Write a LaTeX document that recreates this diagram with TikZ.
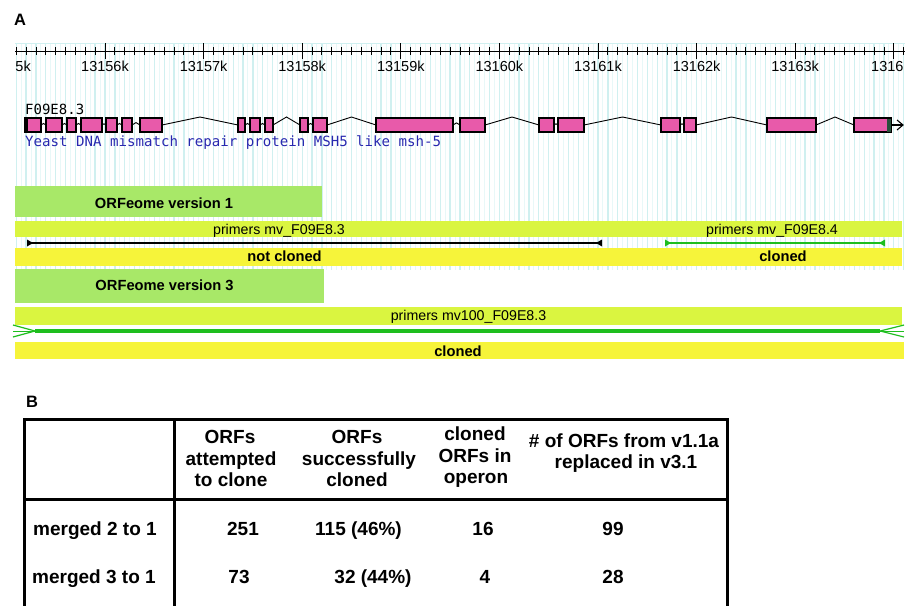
\documentclass[tikz,border=0pt]{standalone}
\usepackage{fontspec}
\setmainfont{Liberation Sans}
\newfontfamily\monof{DejaVu Sans Mono}
\usetikzlibrary{arrows.meta}
\definecolor{stripe}{RGB}{208,240,240}
\definecolor{stripelt}{RGB}{232,248,248}
\definecolor{orfgreen}{RGB}{168,232,104}
\definecolor{primbar}{RGB}{218,245,64}
\definecolor{clonebar}{RGB}{246,244,58}
\definecolor{lgreen}{RGB}{30,190,30}
\definecolor{exonpink}{RGB}{232,90,170}
\definecolor{genblue}{RGB}{40,40,175}
\definecolor{enddark}{RGB}{40,80,60}
\begin{document}
\begin{tikzpicture}[x=1pt,y=-1pt,
  txt/.style={inner sep=0pt, anchor=base},
  trk/.style={txt, font=\fontsize{14.2}{16}\selectfont},
  trkb/.style={txt, font=\bfseries\fontsize{14.7}{16}\selectfont},
  rul/.style={txt, font=\fontsize{14.5}{16}\selectfont},
  tab/.style={txt, font=\bfseries\fontsize{19}{21}\selectfont},
  panel/.style={txt, anchor=base west, font=\bfseries\fontsize{16.5}{18}\selectfont},
  exon/.style={fill=exonpink, draw=black, line width=1.1pt},
  intron/.style={draw=black, line width=0.9pt},
  tabline/.style={line width=3pt}]
\fill[white] (0,0) rectangle (917,605);
\useasboundingbox (0,0) rectangle (917,605);

% background stripes
\foreach \k in {-9,...,80} {
  \draw[stripelt, line width=1pt] ({105+\k*9.86+4.93},43) -- ({105+\k*9.86+4.93},270);
}
\foreach \k in {-9,...,81} {
  \draw[stripe, line width=1.3pt] ({105+\k*9.86},43) -- ({105+\k*9.86},270);
}
\draw[stripe, line width=1pt] (15,43) -- (905,43);

% panel labels
\node[panel] (lblA) at (14,25) {A};
\node[panel] (lblB) at (26,407) {B};

% ruler
\draw[line width=1pt] (15,51) -- (905,51);
\foreach \k in {-9,...,81} {
  \draw[line width=0.9pt] ({105+\k*9.86},47) -- ({105+\k*9.86},55);
}
\foreach \m in {0,...,8} {
  \draw[line width=1pt] ({105+\m*98.6},43) -- ({105+\m*98.6},59);
}
\foreach \m in {0,...,7} {
  \pgfmathtruncatemacro{\kb}{13156+\m}
  \node[rul] (tick\m) at ({105+\m*98.6},71.5) {\kb k};
}
\node[rul, anchor=base east] (tickL) at (31,71.5) {5k};
\node[rul, anchor=base west] (tickR) at (871,71.5) {1316};

% gene model
\node[txt, anchor=base west, font=\monof\fontsize{14}{16}\selectfont] (gname) at (25,114.5) {F09E8.3};
\foreach \a/\b in {41/46,62/67,76/81,102/106,117/122,132/140,162/238,245/250,260/265,273/300,308/313,327/376,453/460,485/539,554/558,584/661,680/684,696/767,816/854} {
  \draw[intron] (\a,125) -- ({(\a+\b)/2},{max(117,125-(\b-\a)*0.3)}) -- (\b,125);
}
\foreach \a/\b in {25/41,46/62,67/76,81/102,106/117,122/132,140/162,238/245,250/260,265/273,300/308,313/327,376/453,460/485,539/554,558/584,661/680,684/696,767/816,854/891} {
  \draw[exon] (\a,118) rectangle (\b,132);
}
\fill[black] (25,118) rectangle (28,132);
\fill[enddark] (887,118.5) rectangle (890.5,131.5);
\draw[line width=1.1pt] (891,125) -- (903,125);
\draw[line width=1.1pt] (897,120) -- (903,125) -- (897,130);
\node[txt, anchor=base west, text=genblue, font=\monof\fontsize{14.1}{16}\selectfont] (gdesc) at (25,146.5) {Yeast DNA mismatch repair protein MSH5 like msh-5};

% ORFeome version 1
\fill[orfgreen] (15,186) rectangle (322,217);
\node[trkb] (v1) at (164,208) {ORFeome version 1};
\fill[primbar] (15,221) rectangle (902,237);
\node[trk] (p1) at (279,234.5) {primers mv\_F09E8.3};
\node[trk] (p2) at (772,234.5) {primers mv\_F09E8.4};
\draw[line width=1.3pt] (28,243) -- (601,243);
\fill[black] (27,239.5) -- (33,243) -- (27,246.5) -- cycle;
\fill[black] (602,239.5) -- (596,243) -- (602,246.5) -- cycle;
\draw[lgreen, line width=2.4pt] (668,243) -- (882,243);
\fill[lgreen] (665,239.5) -- (671,243) -- (665,246.5) -- cycle;
\fill[lgreen] (885,239.5) -- (879,243) -- (885,246.5) -- cycle;
\fill[clonebar] (15,248) rectangle (902,266);
\node[trkb] (nc) at (284.5,261.5) {not cloned};
\node[trkb] (c1) at (783,261.5) {cloned};

% ORFeome version 3
\fill[orfgreen] (15,269) rectangle (324,303);
\node[trkb] (v3) at (164.5,290) {ORFeome version 3};
\fill[primbar] (15,307) rectangle (902,325);
\node[trk] (p3) at (468.5,320) {primers mv100\_F09E8.3};
\draw[lgreen, line width=1pt] (13,331) -- (904,331);
\draw[lgreen, line width=3.2pt] (35,331) -- (880,331);
\draw[lgreen, line width=1.2pt] (13,325) -- (35,331) -- (13,337);
\draw[lgreen, line width=1.2pt] (904,325) -- (880,331) -- (904,337);
\fill[clonebar] (15,342) rectangle (904,359);
\node[trkb] (c2) at (458,356.5) {cloned};

% table
\draw[tabline] (24,606) -- (24,419) -- (727,419) -- (727,606);
\draw[tabline] (24,499.5) -- (727,499.5);
\draw[tabline] (174,419) -- (174,606);

\node[tab] (h2a) at (230,443) {ORFs};
\node[tab] (h2b) at (231,465) {attempted};
\node[tab] (h2c) at (231,486) {to clone};
\node[tab] (h3a) at (357,443) {ORFs};
\node[tab] (h3b) at (359,465) {successfully};
\node[tab] (h3c) at (357,486) {cloned};
\node[tab] (h4a) at (475,440) {cloned};
\node[tab] (h4b) at (475,462) {ORFs in};
\node[tab] (h4c) at (476,483) {operon};
\node[tab] (h5a) at (624,447) {\# of ORFs from v1.1a};
\node[tab] (h5b) at (626,468) {replaced in v3.1};

\node[tab, anchor=base west] (r1) at (33,535) {merged 2 to 1};
\node[tab] (r1a) at (243,535) {251};
\node[tab] (r1b) at (358.5,535) {115 (46\%)};
\node[tab] (r1c) at (483,535) {16};
\node[tab] (r1d) at (613,535) {99};
\node[tab, anchor=base west] (r2) at (32,583) {merged 3 to 1};
\node[tab] (r2a) at (239,583) {73};
\node[tab] (r2b) at (373,583) {32 (44\%)};
\node[tab] (r2c) at (485,583) {4};
\node[tab] (r2d) at (613,583) {28};
\end{tikzpicture}
\end{document}
